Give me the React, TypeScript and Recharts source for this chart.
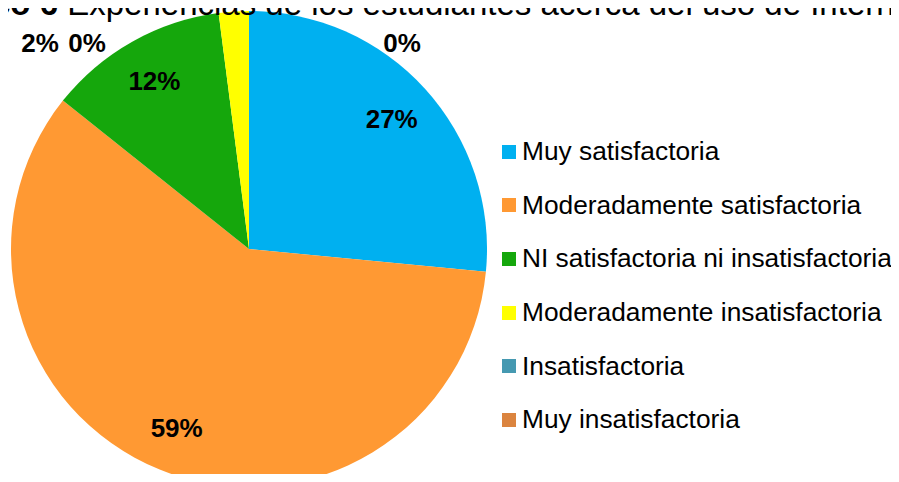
import React from 'react';
import { PieChart, Pie, Cell, Legend } from 'recharts';

const categories = [
    'Muy satisfactoria',
    'Moderadamente satisfactoria',
    'NI satisfactoria ni insatisfactoria',
    'Moderadamente insatisfactoria',
    'Insatisfactoria',
    'Muy insatisfactoria',
];
const students = [13, 29, 6, 1, 0, 0];
const colors = ['#00B0F0', '#FF9933', '#15A70C', '#FFFF00', '#4599B1', '#DB843F'];

const titleBold = 'Gráfico 6';
const titleText = 'Experiencias de los estudiantes acerca del uso de Internet';

const FONT = '"Liberation Sans", Arial, sans-serif';
const RAD = Math.PI / 180;

// the small slices get their labels pushed up to the top, like the original
const smallLabelX: Record<number, number> = { 3: -209, 4: -162, 5: 153 };

const renderLabel = (props: any) => {
    const { cx, cy, midAngle, outerRadius, percent, index } = props;
    let x: number;
    let y: number;
    if (smallLabelX[index] !== undefined) {
        x = cx + smallLabelX[index];
        y = cy - outerRadius + 32;
    } else {
        const r = outerRadius * 0.81;
        x = cx + r * Math.cos(-midAngle * RAD);
        y = cy + r * Math.sin(-midAngle * RAD);
    }
    return (
        <text
            x={x}
            y={y}
            textAnchor="middle"
            dominantBaseline="central"
            fill="#000"
            fontFamily={FONT}
            fontSize={26}
            fontWeight="bold"
        >
            {Math.round(percent * 100) + '%'}
        </text>
    );
};

const renderLegend = () => (
    <ul style={{ listStyle: 'none', margin: 0, padding: 0 }}>
        {categories.map((c, i) => (
            <li
                key={c}
                style={{
                    height: 53.6,
                    display: 'flex',
                    alignItems: 'center',
                    fontFamily: FONT,
                    fontSize: 26.3,
                    color: '#000',
                    whiteSpace: 'nowrap',
                }}
            >
                <span
                    style={{
                        display: 'inline-block',
                        width: 14,
                        height: 14,
                        background: colors[i],
                        marginRight: 6,
                    }}
                />
                {c}
            </li>
        ))}
    </ul>
);

export default function App() {
    const data = categories.map((name, i) => ({ name, value: students[i] }));

    return (
        <div
            style={{
                position: 'relative',
                width: 899,
                height: 482,
                margin: -8,
                overflow: 'hidden',
                background: '#fff',
            }}
        >
            <PieChart width={899} height={482} margin={{ top: 0, right: 0, bottom: 0, left: 0 }}>
                <Pie
                    data={data}
                    dataKey="value"
                    nameKey="name"
                    cx={249}
                    cy={249}
                    outerRadius={238}
                    startAngle={90}
                    endAngle={-270}
                    stroke="none"
                    label={renderLabel}
                    labelLine={false}
                    isAnimationActive={false}
                >
                    {data.map((d, i) => (
                        <Cell key={d.name} fill={colors[i]} />
                    ))}
                </Pie>
                <Legend
                    layout="vertical"
                    content={renderLegend}
                    wrapperStyle={{ left: 502, top: 125, width: 397 }}
                />
            </PieChart>
            <svg
                width={899}
                height={40}
                style={{ position: 'absolute', left: 0, top: 0 }}
            >
                <text x={-85} y={15} fontFamily={FONT} fontSize={33} fill="#000">
                    <tspan fontWeight="bold">{titleBold}</tspan>
                    <tspan> {titleText}</tspan>
                </text>
            </svg>
        </div>
    );
}
